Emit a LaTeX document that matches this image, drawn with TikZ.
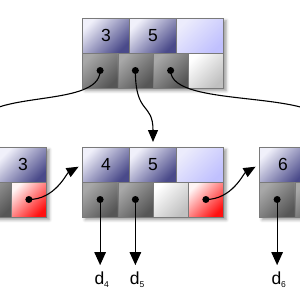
\documentclass[tikz,border=0pt]{standalone}
\usepackage{fontspec}
\setmainfont{Liberation Sans}
\usetikzlibrary{shadows.blur,arrows.meta,calc}
\definecolor{keylight}{HTML}{F0F0FA}
\definecolor{keydark}{HTML}{4A4A8A}
\definecolor{emptylight}{HTML}{ECECFC}
\definecolor{emptydark}{HTML}{C0C0FE}
\definecolor{ptrlight}{HTML}{A8A8A8}
\definecolor{ptrdark}{HTML}{565656}
\definecolor{nplight}{HTML}{FFFFFF}
\definecolor{npdark}{HTML}{C0C0C0}
\definecolor{redlight}{HTML}{FFF4F4}
\definecolor{reddark}{HTML}{FF1010}
\definecolor{cellline}{HTML}{7A7A7A}
\tikzset{
  cell/.style={draw=cellline, line width=0.4pt, inner sep=0pt, outer sep=0pt,
    anchor=north west, minimum height=35pt},
  keycell/.style={cell, minimum width=47pt, top color=keylight, bottom color=keydark,
    shading angle=45, font=\fontsize{17.5}{18}\selectfont},
  emptykey/.style={cell, minimum width=47pt, top color=emptylight, bottom color=emptydark,
    shading angle=45},
  ptrcell/.style={cell, minimum width=35.25pt, top color=ptrlight, bottom color=ptrdark,
    shading angle=45},
  nullptr/.style={cell, minimum width=35.25pt, top color=nplight, bottom color=npdark,
    shading angle=45},
  nextptr/.style={cell, minimum width=35.25pt, top color=redlight, bottom color=reddark,
    shading angle=45},
  frame/.style={anchor=north west, minimum width=141pt, minimum height=70pt, inner sep=0pt,
    fill=white, blur shadow={shadow xshift=2.5pt, shadow yshift=-2.5pt,
    shadow blur radius=3pt, shadow opacity=40}},
  dot/.style={circle, fill=black, inner sep=0pt, minimum size=7pt},
  conn/.style={line width=1.1pt, -{Triangle[length=12pt,width=10pt]}},
  down/.style={line width=1.1pt, -{Triangle[length=13pt,width=11.5pt]}, shorten >=6.5pt},
  lbl/.style={anchor=base west, inner sep=0pt, font=\fontsize{17.5}{18}\selectfont},
}
\newcommand\sub[1]{\raisebox{-3pt}{\fontsize{8.5}{9}\selectfont #1}}
\begin{document}
\begin{tikzpicture}[x=1pt, y=-1pt]
\useasboundingbox (0,0) rectangle (300,300);
\clip (0,0) rectangle (300,300);

% ---- top node
\node[frame] (T) at (82.5,18) {};
\node[keycell] (Tk1) at (82.5,18) {3};
\node[keycell] (Tk2) at (Tk1.north east) {5};
\node[emptykey] (Tk3) at (Tk2.north east) {};
\node[ptrcell] (Tp1) at (82.5,53) {};
\node[ptrcell] (Tp2) at (Tp1.north east) {};
\node[ptrcell] (Tp3) at (Tp2.north east) {};
\node[nullptr] (Tp4) at (Tp3.north east) {};

% ---- left leaf
\node[frame] (L) at (-94.5,147) {};
\node[keycell] (Lk1) at (-94.5,147) {};
\node[keycell] (Lk2) at (Lk1.north east) {};
\node[keycell] (Lk3) at (Lk2.north east) {3};
\node[ptrcell] (Lp1) at (-94.5,182) {};
\node[ptrcell] (Lp2) at (Lp1.north east) {};
\node[ptrcell] (Lp3) at (Lp2.north east) {};
\node[nextptr] (Lp4) at (Lp3.north east) {};

% ---- middle leaf
\node[frame] (M) at (82.5,147) {};
\node[keycell] (Mk1) at (82.5,147) {4};
\node[keycell] (Mk2) at (Mk1.north east) {5};
\node[emptykey] (Mk3) at (Mk2.north east) {};
\node[ptrcell] (Mp1) at (82.5,182) {};
\node[ptrcell] (Mp2) at (Mp1.north east) {};
\node[nullptr] (Mp3) at (Mp2.north east) {};
\node[nextptr] (Mp4) at (Mp3.north east) {};

% ---- right leaf
\node[frame] (R) at (259.5,147) {};
\node[keycell] (Rk1) at (259.5,147) {6};
\node[keycell] (Rk2) at (Rk1.north east) {};
\node[keycell] (Rk3) at (Rk2.north east) {};
\node[ptrcell] (Rp1) at (259.5,182) {};
\node[ptrcell] (Rp2) at (Rp1.north east) {};
\node[ptrcell] (Rp3) at (Rp2.north east) {};
\node[nextptr] (Rp4) at (Rp3.north east) {};

% ---- dots
\node[dot] (Td1) at (Tp1.center) {};
\node[dot] (Td2) at (Tp2.center) {};
\node[dot] (Td3) at (Tp3.center) {};
\node[dot] (Ld3) at (Lp3.center) {};
\node[dot] (Ld4) at (Lp4.center) {};
\node[dot] (Md1) at (Mp1.center) {};
\node[dot] (Md2) at (Mp2.center) {};
\node[dot] (Md4) at (Mp4.center) {};
\node[dot] (Rd1) at (Rp1.center) {};

% ---- labels
\node[lbl] (d3) at (-14.5,284.5) {d\sub{3}};
\node[lbl] (d4) at (94.3,284.5) {d\sub{4}};
\node[lbl] (d5) at (129.6,284.5) {d\sub{5}};
\node[lbl] (d6) at (271.3,284.5) {d\sub{6}};

% ---- connectors from the root
\draw[conn, shorten >=5pt] (Td1.center) .. controls +(0,40) and +(0,-60) .. (Lk2.north);
\draw[conn, shorten >=5pt] (Td2.center) .. controls +(0,45) and +(0,-45) .. (Mk2.north);
\draw[conn, shorten >=5pt] (Td3.center) .. controls +(0,40) and +(0,-60) .. (Rk2.north);

% ---- leaf chain
\draw[conn, shorten >=4.5pt] (Ld4.center) .. controls +(26,0) and +(-16,9) .. (Mk1.west);
\draw[conn, shorten >=4.5pt] (Md4.center) .. controls +(26,0) and +(-16,9) .. (Rk1.west);

% ---- data pointers
\draw[down] (Ld3.center) -- (Ld3.center |- d3.north);
\draw[down] (Md1.center) -- (Md1.center |- d4.north);
\draw[down] (Md2.center) -- (Md2.center |- d5.north);
\draw[down] (Rd1.center) -- (Rd1.center |- d6.north);
\end{tikzpicture}
\end{document}
